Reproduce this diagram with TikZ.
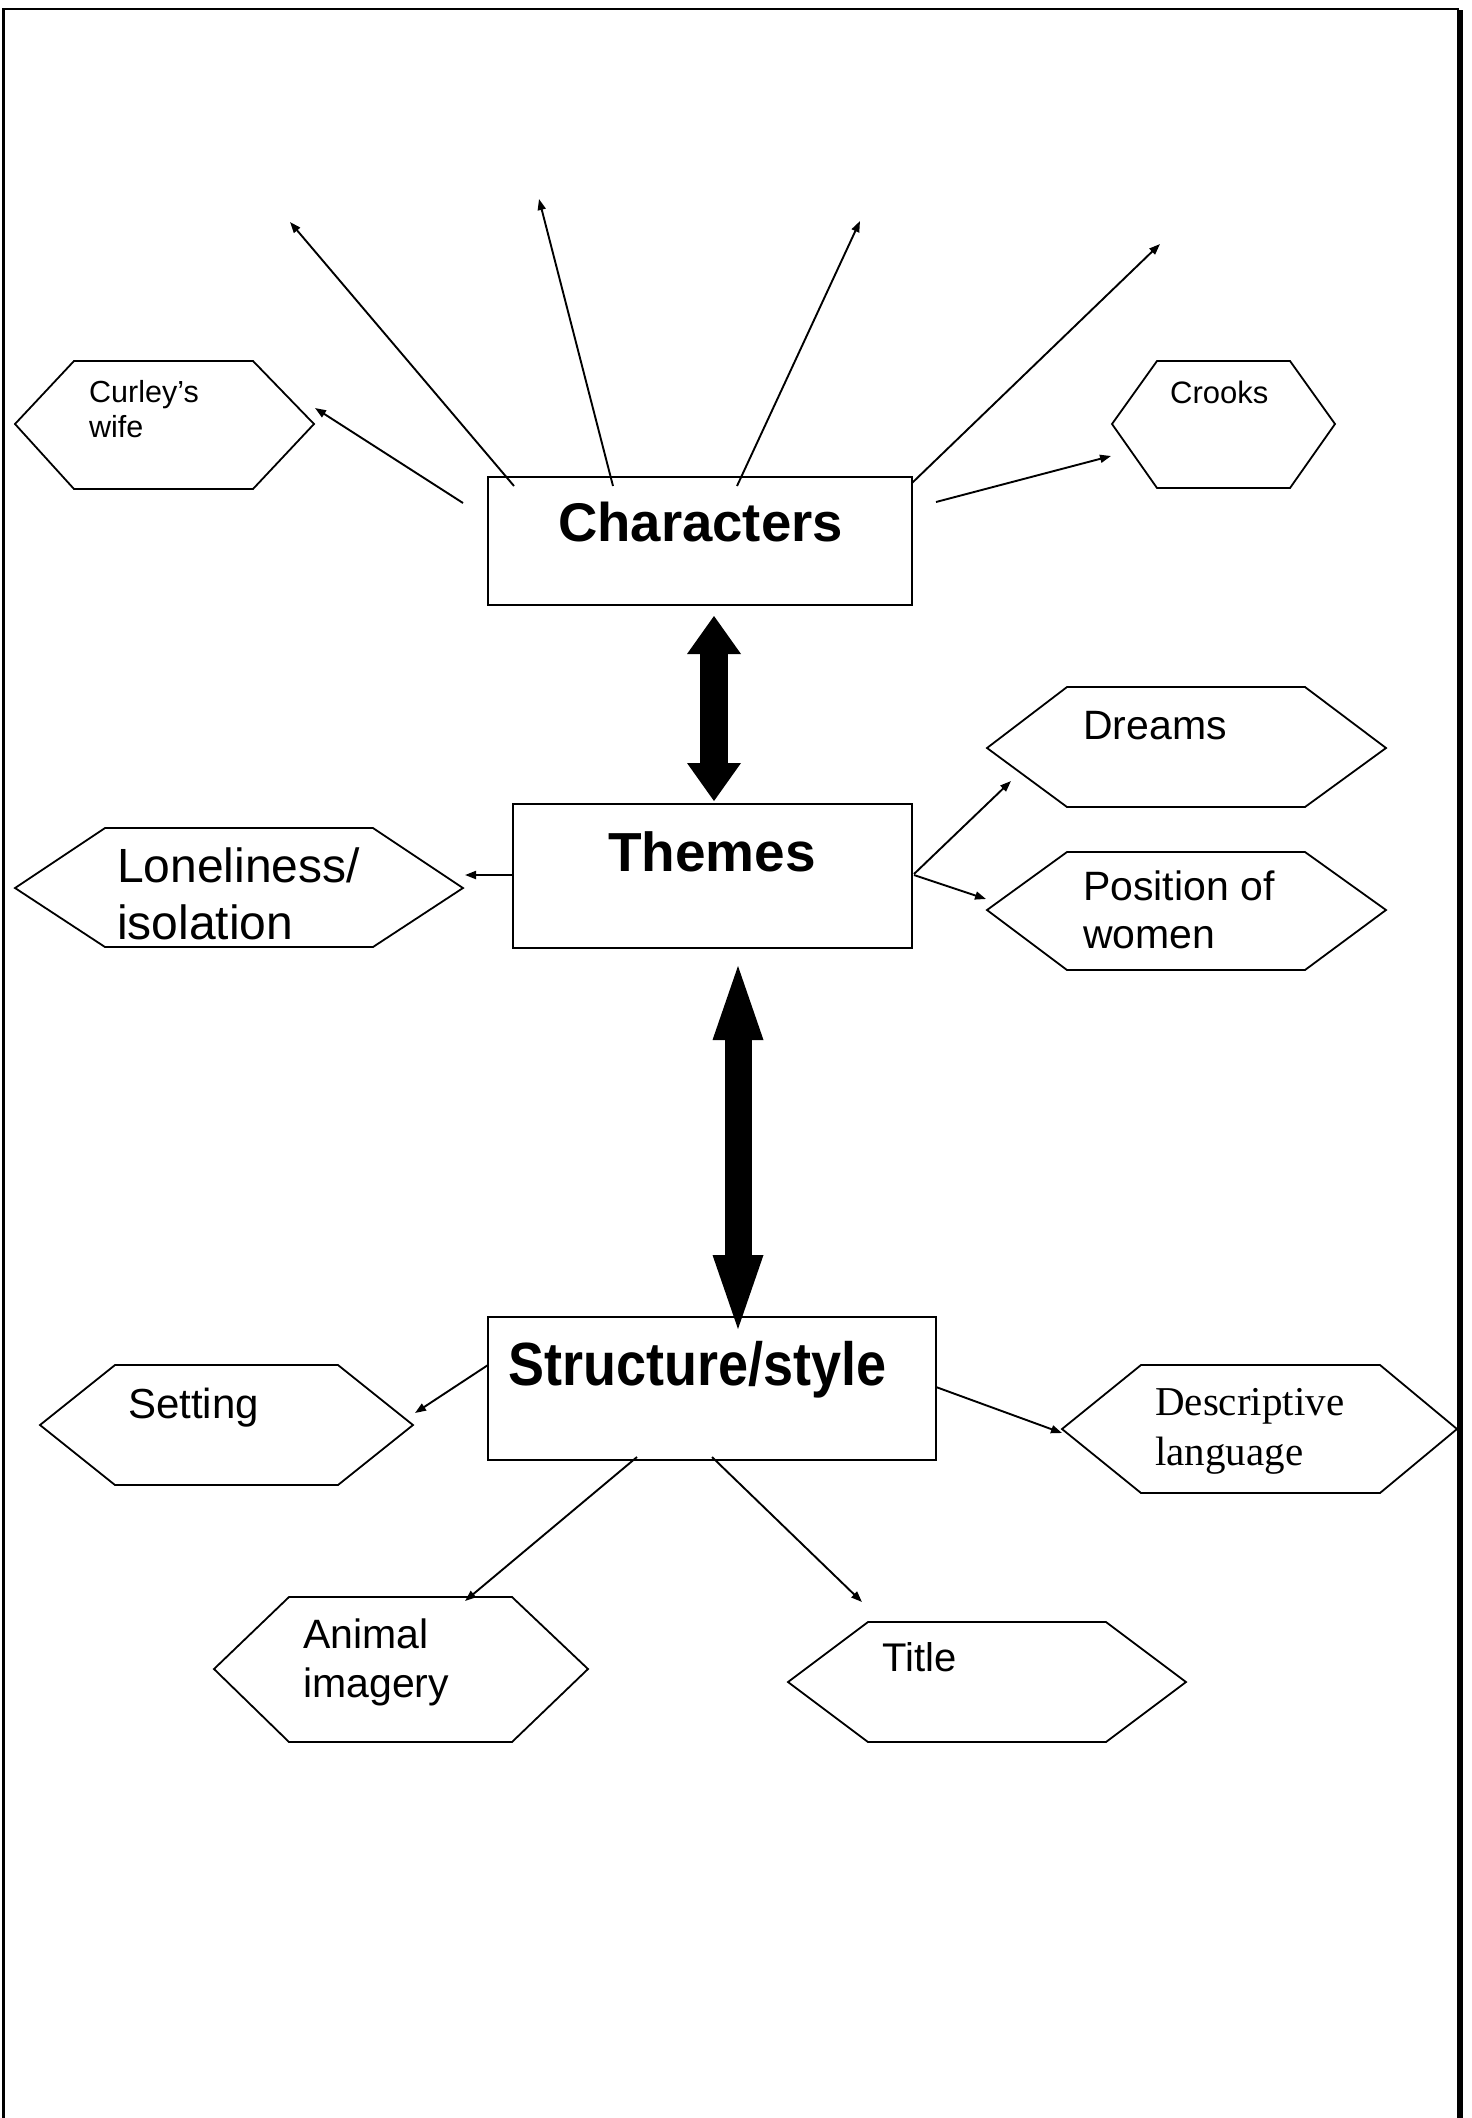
\documentclass[tikz,border=0pt]{standalone}
\usepackage{fontspec}
\setmainfont{Liberation Sans}
\newfontfamily\serifface{Liberation Serif}
\usepackage{graphicx}
\usetikzlibrary{arrows.meta}
\newcommand{\twoln}[2]{\vtop{\hbox{#1}\hbox{#2}}}
\newcommand{\hexa}[7]{\draw[hexline] (#1,#6) -- (#2,#5) -- (#3,#5) -- (#4,#6) -- (#3,#7) -- (#2,#7) -- cycle;}
\begin{document}
\begin{tikzpicture}[x=1pt,y=-1pt,
  box/.style={draw, line width=1.8pt, inner sep=0pt},
  hexline/.style={line width=1.8pt, line join=miter},
  txt/.style={anchor=base west, inner sep=0pt},
  thin/.style={line width=1.9pt, -{Triangle[length=11pt,width=8pt]}},
  bigone/.style={line width=28pt, {Triangle[length=38pt,width=54pt,line width=0pt]}-{Triangle[length=38pt,width=54pt,line width=0pt]}},
  bigtwo/.style={line width=27pt, {Triangle[length=74pt,width=51pt,line width=0pt]}-{Triangle[length=74pt,width=51pt,line width=0pt]}}
]
\useasboundingbox (0,0) rectangle (1472,2118);
\fill[white] (0,0) rectangle (1472,2118);

% page frame
\draw[line width=2.3pt] (3.5,2118) -- (3.5,8.8) -- (1459,8.8);
\draw[line width=6pt] (1459.7,10) -- (1459.7,2118);

% main boxes
\node[box, minimum width=424pt, minimum height=128pt] (chars) at (700,541) {};
\node[box, minimum width=399pt, minimum height=144pt] (themes) at (712.5,876) {};
\node[box, minimum width=448pt, minimum height=143pt] (struct) at (712,1388.5) {};

\node[txt, font=\fontsize{54.5}{60}\selectfont\bfseries] (charstxt) at (558,541) {Characters};
\node[txt, font=\fontsize{55}{60}\selectfont\bfseries] (themestxt) at (608,871) {Themes};
\node[txt, font=\fontsize{61}{66}\selectfont\bfseries] (structtxt) at (508,1385) {\scalebox{0.885}[1]{Structure/style}};

% hexagons
\hexa{15}{74}{253}{314}{361}{424}{489}
\hexa{1112}{1157}{1290}{1335}{361}{424}{488}
\hexa{15}{105}{373}{463}{828}{888}{947}
\hexa{987}{1067}{1305}{1386}{687}{748}{807}
\hexa{987}{1067}{1305}{1386}{852}{910}{970}
\hexa{40}{115}{338}{413}{1365}{1425}{1485}
\hexa{1062}{1141}{1380}{1457}{1365}{1429}{1493}
\hexa{214}{289}{512}{588}{1597}{1669}{1742}
\hexa{788}{868}{1106}{1186}{1622}{1682}{1742}

% hexagon texts
\node[txt, font=\fontsize{30.5}{35}\selectfont] (curley) at (89,402) {\twoln{Curley’s}{wife}};
\node[txt, font=\fontsize{31}{35}\selectfont] (crooks) at (1170,403) {Crooks};
\node[txt, font=\fontsize{48}{57}\selectfont] (lonely) at (117,882) {\twoln{Loneliness/}{isolation}};
\node[txt, font=\fontsize{41}{48}\selectfont] (dreams) at (1083,739) {Dreams};
\node[txt, font=\fontsize{41}{48}\selectfont] (position) at (1083,900) {\twoln{Position of}{women}};
\node[txt, font=\fontsize{42}{48}\selectfont] (setting) at (128,1418) {Setting};
\node[txt, font=\serifface\fontsize{41}{50}\selectfont] (desc) at (1155,1415) {\twoln{Descriptive}{language}};
\node[txt, font=\fontsize{41}{49}\selectfont] (animal) at (303,1648) {\twoln{Animal}{imagery}};
\node[txt, font=\fontsize{40}{48}\selectfont] (title) at (882,1671) {Title};

% connector end points
\coordinate (c1s) at (514,486);  \coordinate (c1e) at (290,222);
\coordinate (c2s) at (613,486);  \coordinate (c2e) at (539,199);
\coordinate (c3s) at (737,486);  \coordinate (c3e) at (860,221);
\coordinate (c4s) at (912,483);  \coordinate (c4e) at (1160,244);
\coordinate (cws) at (463,503);  \coordinate (cwe) at (315,408);
\coordinate (crs) at (936,502);  \coordinate (cre) at (1111,456);
\coordinate (los) at (513,875);  \coordinate (loe) at (465,875);
\coordinate (drs) at (914,874);  \coordinate (dre) at (1011,781);
\coordinate (pos) at (914,875);  \coordinate (poe) at (986,899);
\coordinate (ses) at (488,1365); \coordinate (see) at (415,1413);
\coordinate (des) at (936,1387); \coordinate (dee) at (1062,1433);
\coordinate (ans) at (637,1457); \coordinate (ane) at (465,1601);
\coordinate (tis) at (712,1457); \coordinate (tie) at (862,1602);

\draw[thin] (c1s) -- (c1e);
\draw[thin] (c2s) -- (c2e);
\draw[thin] (c3s) -- (c3e);
\draw[thin] (c4s) -- (c4e);
\draw[thin] (cws) -- (cwe);
\draw[thin] (crs) -- (cre);
\draw[thin] (los) -- (loe);
\draw[thin] (drs) -- (dre);
\draw[thin] (pos) -- (poe);
\draw[thin] (ses) -- (see);
\draw[thin] (des) -- (dee);
\draw[thin] (ans) -- (ane);
\draw[thin] (tis) -- (tie);

% big double arrows
\coordinate (b1t) at (714,616);  \coordinate (b1b) at (714,801);
\coordinate (b2t) at (738,966);  \coordinate (b2b) at (738,1329);
\draw[bigone] (b1t) -- (b1b);
\draw[bigtwo] (b2t) -- (b2b);
\end{tikzpicture}
\end{document}
